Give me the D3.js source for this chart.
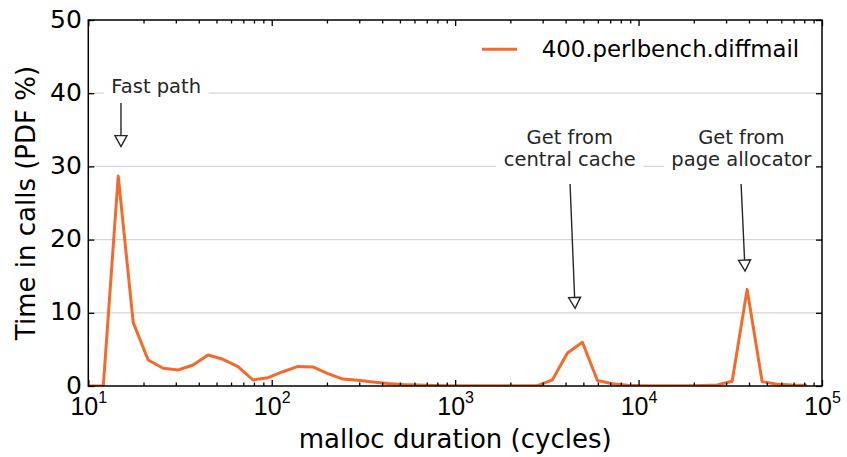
<!DOCTYPE html>
<html>
<head>
<meta charset="utf-8">
<script src="https://cdn.jsdelivr.net/npm/d3@7"></script>
<style>
  html, body { margin: 0; padding: 0; background: #fff; }
  svg { display: block; font-family: "DejaVu Sans", sans-serif; }
</style>
</head>
<body>
<svg id="chart" width="847" height="457"></svg>
<script>
// Histogram bin positions (cycles) on a log scale
const binCycles = [10, 12.07, 14.56, 17.58, 21.21, 25.60, 30.89, 37.28, 44.98, 54.29,
  65.51, 79.06, 95.41, 115.1, 139.0, 167.7, 202.4, 244.2, 294.7, 355.7,
  429.2, 518.0, 625.1, 754.3, 910.3, 1098.5, 1325.7, 1599.9, 1930.7, 2330.0,
  2811.8, 3393.2, 4094.9, 4941.7, 5963.6, 7196.9, 8685.1, 10481, 12649, 15264,
  18421, 22230, 26827, 32375, 39069, 47149, 56899, 68665, 82864];

// Share of time spent in calls of each duration (PDF %)
const diffmailPdf = [0, 0, 28.7, 8.65, 3.55, 2.42, 2.19, 2.87, 4.23, 3.65,
  2.64, 0.82, 1.13, 1.95, 2.68, 2.6, 1.7, 0.95, 0.78, 0.55,
  0.35, 0.2, 0.12, 0.08, 0.05, 0.03, 0.02, 0.02, 0.02, 0.02,
  0.05, 0.85, 4.5, 5.97, 0.75, 0.32, 0.1, 0.05, 0.03, 0.03,
  0.05, 0.08, 0.15, 0.65, 13.2, 0.6, 0.25, 0.15, 0.1];

const seriesName = "400.perlbench.diffmail";
const xMajorTicks = [1e1, 1e2, 1e3, 1e4, 1e5];
const xTickExponents = ["1", "2", "3", "4", "5"];
const yTicks = [0, 10, 20, 30, 40, 50];
const yGridTicks = [10, 20, 30, 40];

// Callouts: text anchor and arrow from/to, in data units
const calloutLines = [["Fast path"], ["Get from", "central cache"], ["Get from", "page allocator"]];
const calloutText = [[23.46, 41.0], [4216, 32.5], [36310, 32.5]];
const calloutFrom = [[15.07, 38.66], [4231, 27.6], [36220, 27.6]];
const calloutTo = [[15.07, 32.7], [4505, 10.6], [38070, 15.7]];

const orange = "#f26b2a";
const ink = "#262626";

const svg = d3.select("#chart");
const plotL = 88.3, plotR = 822, plotT = 20, plotB = 386;

const x = d3.scaleLog().domain([10, 1e5]).range([plotL, plotR]);
const y = d3.scaleLinear().domain([0, 50]).range([plotB, plotT]);

const minorTicks = [];
for (let d = 1; d < 5; d++) {
  for (let m = 2; m <= 9; m++) minorTicks.push(m * Math.pow(10, d));
}

// clip region for the data line
svg.append("defs").append("clipPath").attr("id", "plotClip")
  .append("rect").attr("x", plotL).attr("y", plotT)
  .attr("width", plotR - plotL).attr("height", plotB - plotT);

// horizontal grid
svg.append("g").selectAll("line").data(yGridTicks).join("line")
  .attr("x1", plotL).attr("x2", plotR)
  .attr("y1", d => y(d)).attr("y2", d => y(d))
  .attr("stroke", "#d6d6d6").attr("stroke-width", 1.2);

// data line
const pts = binCycles.map((c, i) => [c, diffmailPdf[i]]);
svg.append("path")
  .attr("clip-path", "url(#plotClip)")
  .attr("d", d3.line().x(d => x(d[0])).y(d => y(d[1]))(pts))
  .attr("fill", "none").attr("stroke", orange)
  .attr("stroke-width", 3).attr("stroke-linejoin", "round");

// callouts
calloutLines.forEach((lines, i) => {
  const g = svg.append("g");
  const tx = x(calloutText[i][0]), ty = y(calloutText[i][1]);
  const lh = 22.6;
  const t = g.append("text")
    .attr("text-anchor", "middle")
    .attr("font-size", 19.5)
    .attr("fill", ink);
  lines.forEach((s, j) => {
    t.append("tspan")
      .attr("x", tx)
      .attr("y", ty + (j - (lines.length - 1) / 2) * lh)
      .attr("dy", "0.35em")
      .text(s);
  });
  const bb = t.node().getBBox();
  const pad = 7.5;
  g.insert("rect", "text")
    .attr("x", bb.x - pad).attr("y", bb.y - 3)
    .attr("width", bb.width + 2 * pad).attr("height", bb.height + 6)
    .attr("fill", "#fff");

  const x0 = x(calloutFrom[i][0]), y0 = y(calloutFrom[i][1]);
  const x1 = x(calloutTo[i][0]), y1 = y(calloutTo[i][1]);
  const ang = Math.atan2(y1 - y0, x1 - x0);
  const hl = 11, hw = 6;
  const bx = x1 - hl * Math.cos(ang), by = y1 - hl * Math.sin(ang);
  const px = -Math.sin(ang) * hw, py = Math.cos(ang) * hw;
  g.append("line")
    .attr("x1", x0).attr("y1", y0).attr("x2", bx).attr("y2", by)
    .attr("stroke", ink).attr("stroke-width", 1.4);
  g.append("path")
    .attr("d", `M${bx + px},${by + py}L${x1},${y1}L${bx - px},${by - py}Z`)
    .attr("fill", "#fff").attr("stroke", ink).attr("stroke-width", 1.4)
    .attr("stroke-linejoin", "miter");
});

// axes: ticks point inward on all four sides
function styleAxis(g) {
  g.select(".domain").remove();
  g.selectAll("line").attr("stroke", "#000").attr("stroke-width", 1.3);
}
svg.append("g").attr("transform", `translate(0,${plotB})`)
  .call(d3.axisBottom(x).tickValues(minorTicks).tickSize(-3.5).tickFormat(""))
  .call(styleAxis);
svg.append("g").attr("transform", `translate(0,${plotT})`)
  .call(d3.axisTop(x).tickValues(minorTicks).tickSize(-3.5).tickFormat(""))
  .call(styleAxis);
svg.append("g").attr("transform", `translate(0,${plotT})`)
  .call(d3.axisTop(x).tickValues(xMajorTicks).tickSize(-6).tickFormat(""))
  .call(styleAxis);
const xAxisG = svg.append("g").attr("transform", `translate(0,${plotB})`)
  .call(d3.axisBottom(x).tickValues(xMajorTicks).tickSize(-6).tickPadding(0).tickFormat(""))
  .call(styleAxis);
xAxisG.selectAll(".tick text").remove();
xAxisG.selectAll(".tick").append("text")
  .attr("y", 29)
  .attr("text-anchor", "middle")
  .attr("fill", "#000")
  .attr("font-size", 25)
  .each(function (d, i) {
    const t = d3.select(this);
    t.append("tspan").text("10");
    t.append("tspan").attr("font-size", 16).attr("dy", -12).text(xTickExponents[i]);
  });

const yAxisG = svg.append("g").attr("transform", `translate(${plotL},0)`)
  .call(d3.axisLeft(y).tickValues(yTicks).tickSize(-6).tickPadding(0).tickFormat(d3.format("d")))
  .call(styleAxis);
yAxisG.selectAll(".tick text")
  .attr("x", -6.5).attr("dy", "0.28em")
  .attr("font-size", 25).attr("fill", "#000")
  .attr("font-family", "DejaVu Sans");
svg.append("g").attr("transform", `translate(${plotR},0)`)
  .call(d3.axisRight(y).tickValues(yTicks).tickSize(-6).tickFormat(""))
  .call(styleAxis);

// frame
svg.append("rect")
  .attr("x", plotL).attr("y", plotT)
  .attr("width", plotR - plotL).attr("height", plotB - plotT)
  .attr("fill", "none").attr("stroke", "#000").attr("stroke-width", 1.5);

// axis titles
svg.append("text")
  .attr("x", (plotL + plotR) / 2).attr("y", 448)
  .attr("text-anchor", "middle").attr("font-size", 26).attr("fill", "#000")
  .text("malloc duration (cycles)");
svg.append("text")
  .attr("transform", `translate(34.5,${(plotT + plotB) / 2}) rotate(-90)`)
  .attr("text-anchor", "middle").attr("font-size", 26).attr("fill", "#000")
  .text("Time in calls (PDF %)");

// legend
const lg = svg.append("g");
lg.append("line")
  .attr("x1", 482).attr("x2", 517).attr("y1", 49.3).attr("y2", 49.3)
  .attr("stroke", orange).attr("stroke-width", 3);
lg.append("text")
  .attr("x", 541.7).attr("y", 49.3).attr("dy", "0.35em")
  .attr("font-size", 22.8).attr("fill", "#000")
  .text(seriesName);
</script>
</body>
</html>
